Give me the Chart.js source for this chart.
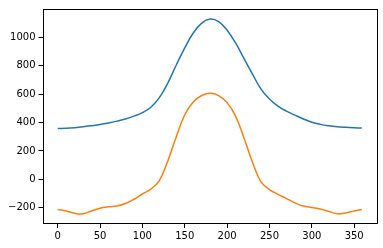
<!DOCTYPE html>
<html>
<head>
<meta charset="utf-8">
<script src="https://cdn.jsdelivr.net/npm/chart.js@4/dist/chart.umd.min.js"></script>
<style>
html,body{margin:0;padding:0;background:#fff;}
#wrap{width:383px;height:248px;position:relative;}
</style>
</head>
<body>
<div id="wrap"><canvas id="c" width="383" height="248"></canvas></div>
<script>
const angles = [0,10,20,30,40,50,60,70,80,90,100,110,120,130,140,150,160,170,180,190,200,210,220,230,240,250,260,270,280,290,300,310,320,330,340,350,359];
const blueValues = [358,360,364,370,378,387,397,410,425,445,470,508,575,678,805,925,1030,1100,1128,1110,1050,960,850,740,635,565,515,480,452,425,402,387,377,370,366,363,361];
const orangeValues = [-212,-222,-238,-242,-222,-203,-193,-187,-170,-140,-103,-68,-8,130,300,455,545,590,606,590,540,445,290,120,-18,-72,-105,-135,-165,-188,-198,-208,-225,-242,-236,-222,-212];
const xTicks = [0,50,100,150,200,250,300,350];
const yTicks = [-200,0,200,400,600,800,1000];

const pts = (vals) => angles.map((a,i)=>({x:a,y:vals[i]}));

const frame = {
  id:'frame',
  afterDraw(chart){
    const {ctx, chartArea:a} = chart;
    ctx.save();
    ctx.strokeStyle='#000';
    ctx.lineWidth=1;
    ctx.strokeRect(Math.round(a.left)+0.5, Math.round(a.top)+0.5, Math.round(a.right-a.left)-1, Math.round(a.bottom-a.top)-1);
    ctx.restore();
  }
};

const font = {family:'"DejaVu Sans"', size:10};

new Chart(document.getElementById('c'), {
  type:'line',
  data:{
    datasets:[
      {data:pts(blueValues), borderColor:'#1f77b4', borderWidth:1.5, pointRadius:0, tension:0.4, fill:false},
      {data:pts(orangeValues), borderColor:'#ff7f0e', borderWidth:1.5, pointRadius:0, tension:0.4, fill:false}
    ]
  },
  options:{
    responsive:false,
    animation:false,
    events:[],
    layout:{padding:{left:0,right:6,top:6,bottom:0}},
    plugins:{legend:{display:false}, tooltip:{enabled:false}},
    scales:{
      x:{
        type:'linear', min:-17.95, max:376.95,
        afterBuildTicks(s){ s.ticks = xTicks.map(v=>({value:v})); },
        afterFit(s){ s.height = 24; },
        grid:{drawOnChartArea:false, tickLength:4, tickColor:'#000', tickWidth:1},
        border:{display:false},
        ticks:{color:'#000', font, padding:2, maxRotation:0, autoSkip:false,
          callback:(v)=>String(v).replace('-','\u2212')}
      },
      y:{
        type:'linear', min:-314, max:1199,
        afterBuildTicks(s){ s.ticks = yTicks.map(v=>({value:v})); },
        afterFit(s){ s.width = 42.5; },
        grid:{drawOnChartArea:false, tickLength:4, tickColor:'#000', tickWidth:1},
        border:{display:false},
        ticks:{color:'#000', font, padding:3, autoSkip:false,
          callback:(v)=>String(v).replace('-','\u2212')}
      }
    }
  },
  plugins:[frame]
});
</script>
</body>
</html>
